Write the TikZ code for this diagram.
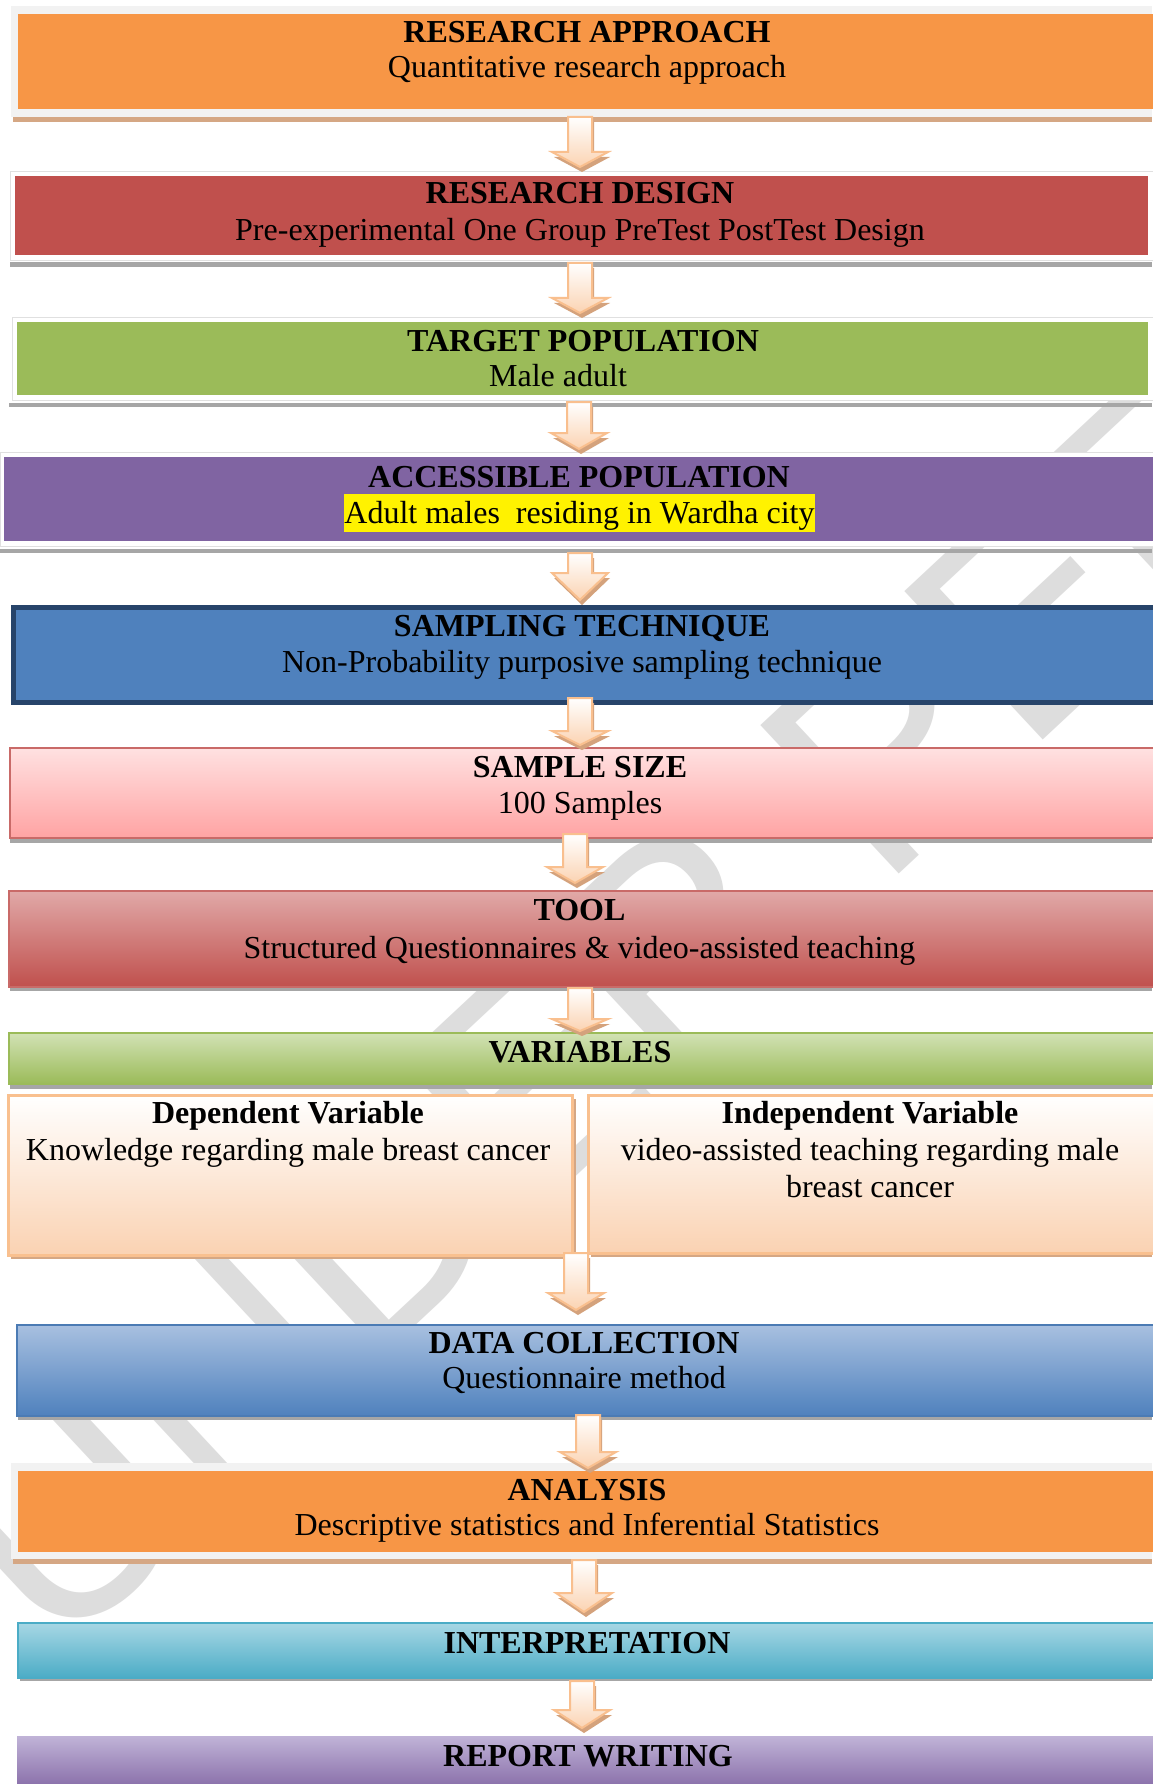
\documentclass[tikz,border=0pt]{standalone}
\usepackage{fontspec}
\setmainfont{Liberation Serif}
\newfontfamily\wmfont{Liberation Sans}
\definecolor{orangeF}{HTML}{F79646}
\definecolor{frameGray}{HTML}{F2F2F2}
\definecolor{tanSh}{HTML}{D5A784}
\definecolor{graySh}{HTML}{A6A6A6}
\definecolor{redF}{HTML}{C0504D}
\definecolor{greenF}{HTML}{9BBB59}
\definecolor{purpleF}{HTML}{8064A2}
\definecolor{blueF}{HTML}{4F81BD}
\definecolor{navyB}{HTML}{27446A}
\definecolor{pinkTop}{HTML}{FFE1E1}
\definecolor{pinkBot}{HTML}{FFA3A3}
\definecolor{toolTop}{HTML}{E1A9A8}
\definecolor{varTop}{HTML}{D2E2B5}
\definecolor{peachBot}{HTML}{FAD2B2}
\definecolor{peachEdge}{HTML}{F9C08F}
\definecolor{dcTop}{HTML}{A8C0E0}
\definecolor{tealF}{HTML}{4BACC6}
\definecolor{intTop}{HTML}{A7D7E4}
\definecolor{repTop}{HTML}{C0B3D7}
\definecolor{wmGray}{HTML}{DDDDDD}
\definecolor{arrPeach}{HTML}{FBD3B2}
\definecolor{arrEdge}{HTML}{F9BF8E}
\definecolor{arrSh}{HTML}{D4A27C}
\newcommand\boxnode[6]{\node[#2, anchor=north west, inner sep=0pt, minimum width={(#5-#3)*1pt}, minimum height={(#6-#4)*1pt}] (#1) at (#3,#4) {};}
\newcommand\blockarr[5]{%
  \coordinate (#1-s) at (#2,#3);
  \coordinate (#1-e) at (#2,#4);
  \fill[arrSh] (#2-12+2,#3+5) -- (#2+12+2,#3+5) -- (#2+12+2,#4-#5+5) -- (#2+28+2,#4-#5+5) -- (#2+2,#4+5) -- (#2-28+2,#4-#5+5) -- (#2-12+2,#4-#5+5) -- cycle;
  \path[top color=white, bottom color=arrPeach, draw=arrEdge, line width=2pt, line join=miter]
    (#2-12,#3) -- (#2+12,#3) -- (#2+12,#4-#5) -- (#2+28,#4-#5) -- (#2,#4) -- (#2-28,#4-#5) -- (#2-12,#4-#5) -- cycle;
}
\begin{document}
\begin{tikzpicture}[x=1pt,y=-1pt,
  txt/.style={inner sep=0pt, anchor=base, font=\fontsize{32}{38}\selectfont},
  ttl/.style={inner sep=0pt, anchor=base, font=\fontsize{32}{38}\selectfont\bfseries},
  wm/.style={inner sep=0pt, anchor=base west, text=wmGray, font=\wmfont\fontsize{295}{300}\selectfont}]
\useasboundingbox (0,0) rectangle (1152,1784);
\fill[white] (0,0) rectangle (1152,1784);

% watermark
\node[wm, rotate=43] (wmark) at (55,1662) {UNDER PEER REVIEW};

% A research approach
\fill[tanSh] (13,116) rectangle (1152,122);
\boxnode{frameA}{fill=frameGray}{11}{6}{1152}{117}
\boxnode{appr}{fill=orangeF}{18}{14}{1156}{109}
\node[ttl] (apprT) at (587,43) {RESEARCH APPROACH};
\node[txt] (apprS) at (587,78) {Quantitative research approach};

% B research design
\fill[graySh] (10,262) rectangle (1152,267);
\boxnode{frameB}{fill=white, draw=black!12, line width=0.6pt}{10}{171}{1156}{260}
\boxnode{design}{fill=redF}{15}{176}{1148}{255}
\node[ttl] (designT) at (580,204) {RESEARCH DESIGN};
\node[txt] (designS) at (580,241) {Pre-experimental One Group PreTest PostTest Design};

% C target population
\fill[graySh] (9,403) rectangle (1152,407);
\boxnode{frameC}{fill=white, draw=black!12, line width=0.6pt}{12}{317}{1156}{400}
\boxnode{target}{fill=greenF}{17}{322}{1148}{395}
\node[ttl] (targetT) at (583,351) {TARGET POPULATION};
\node[txt] (targetS) at (558,386) {Male adult};

% D accessible population
\fill[graySh] (0,549) rectangle (1152,553);
\boxnode{frameD}{fill=white, draw=black!12, line width=0.6pt}{0}{452}{1156}{546}
\boxnode{access}{fill=purpleF}{4}{457}{1156}{541}
\node[ttl] (accessT) at (579,487) {ACCESSIBLE POPULATION};
\node[txt, fill=yellow, text height=29pt, text depth=9pt] (accessS) at (579.5,523) {Adult males\ \ residing in Wardha city};

% E sampling technique
\boxnode{samp}{fill=blueF, draw=navyB, line width=5pt}{10.5}{604.5}{1160}{699.5}
\node[ttl] (sampT) at (582,636) {SAMPLING TECHNIQUE};
\node[txt] (sampS) at (582,672) {Non-Probability purposive sampling technique};

% F sample size
\fill[graySh] (10,836) rectangle (1152,843);
\boxnode{size}{top color=pinkTop, bottom color=pinkBot, draw=redF!85!white, line width=2pt}{9}{747}{1160}{837}
\node[ttl] (sizeT) at (580,777) {SAMPLE SIZE};
\node[txt] (sizeS) at (580,813) {100 Samples};

% G tool
\fill[graySh] (10,985) rectangle (1152,991);
\boxnode{tool}{top color=toolTop, bottom color=redF, draw=redF!85!white, line width=1.5pt}{8}{890}{1160}{986}
\node[ttl] (toolT) at (579.5,920) {TOOL};
\node[txt] (toolS) at (579.5,958) {Structured Questionnaires \& video-assisted teaching};

% H variables
\fill[graySh] (10,1082) rectangle (1152,1089);
\boxnode{vars}{top color=varTop, bottom color=greenF, draw=greenF, line width=1.5pt}{8}{1032}{1160}{1083}
\node[ttl] (varsT) at (580,1062) {VARIABLES};

% I dependent variable
\fill[tanSh] (11,1099) rectangle (576,1259);
\boxnode{dep}{top color=white, bottom color=peachBot, draw=peachEdge, line width=2.5pt}{7}{1094}{571}{1254}
\node[ttl] (depT) at (288,1123) {Dependent Variable};
\node[txt] (depS) at (288,1160) {Knowledge regarding male breast cancer};

% J independent variable
\fill[tanSh] (591,1099) rectangle (1152,1257);
\boxnode{indep}{top color=white, bottom color=peachBot, draw=peachEdge, line width=2.5pt}{587}{1094}{1160}{1252}
\node[ttl] (indepT) at (870,1123) {Independent Variable};
\node[txt] (indepS) at (870,1160) {video-assisted teaching regarding male};
\node[txt] (indepS2) at (870,1197) {breast cancer};

% K data collection
\fill[graySh] (18,1413) rectangle (1152,1420);
\boxnode{data}{top color=dcTop, bottom color=blueF, draw=blueF!95!black, line width=1.5pt}{16}{1324}{1160}{1415}
\node[ttl] (dataT) at (584,1353) {DATA COLLECTION};
\node[txt] (dataS) at (584,1388) {Questionnaire method};

% L analysis
\fill[tanSh] (13,1558) rectangle (1152,1564);
\boxnode{frameL}{fill=frameGray}{11}{1463}{1152}{1559}
\boxnode{anal}{fill=orangeF}{18}{1471}{1160}{1552}
\node[ttl] (analT) at (587,1500) {ANALYSIS};
\node[txt] (analS) at (587,1535) {Descriptive statistics and Inferential Statistics};

% M interpretation
\fill[graySh] (20,1676) rectangle (1152,1681);
\boxnode{interp}{top color=intTop, bottom color=tealF, draw=tealF, line width=1.5pt}{17}{1622}{1160}{1677}
\node[ttl] (interpT) at (587,1653) {INTERPRETATION};

% N report writing
\boxnode{report}{top color=repTop, bottom color=purpleF}{17}{1736}{1160}{1795}
\node[ttl] (reportT) at (588,1766) {REPORT WRITING};

% block arrows
\blockarr{a1}{580}{117}{167}{15}
\blockarr{a2}{580}{263}{313}{15}
\blockarr{a3}{579}{402}{449}{16}
\blockarr{a4}{580}{553}{600}{27}
\blockarr{a5}{580}{698}{745}{14}
\blockarr{a6}{575}{834}{883}{16}
\blockarr{a7}{580}{988}{1031}{12}
\blockarr{a8}{576}{1253}{1310}{17}
\blockarr{a9}{588}{1415}{1468}{16}
\blockarr{a10}{584}{1560}{1612}{19}
\blockarr{a11}{582}{1681}{1728}{18}
\end{tikzpicture}
\end{document}
